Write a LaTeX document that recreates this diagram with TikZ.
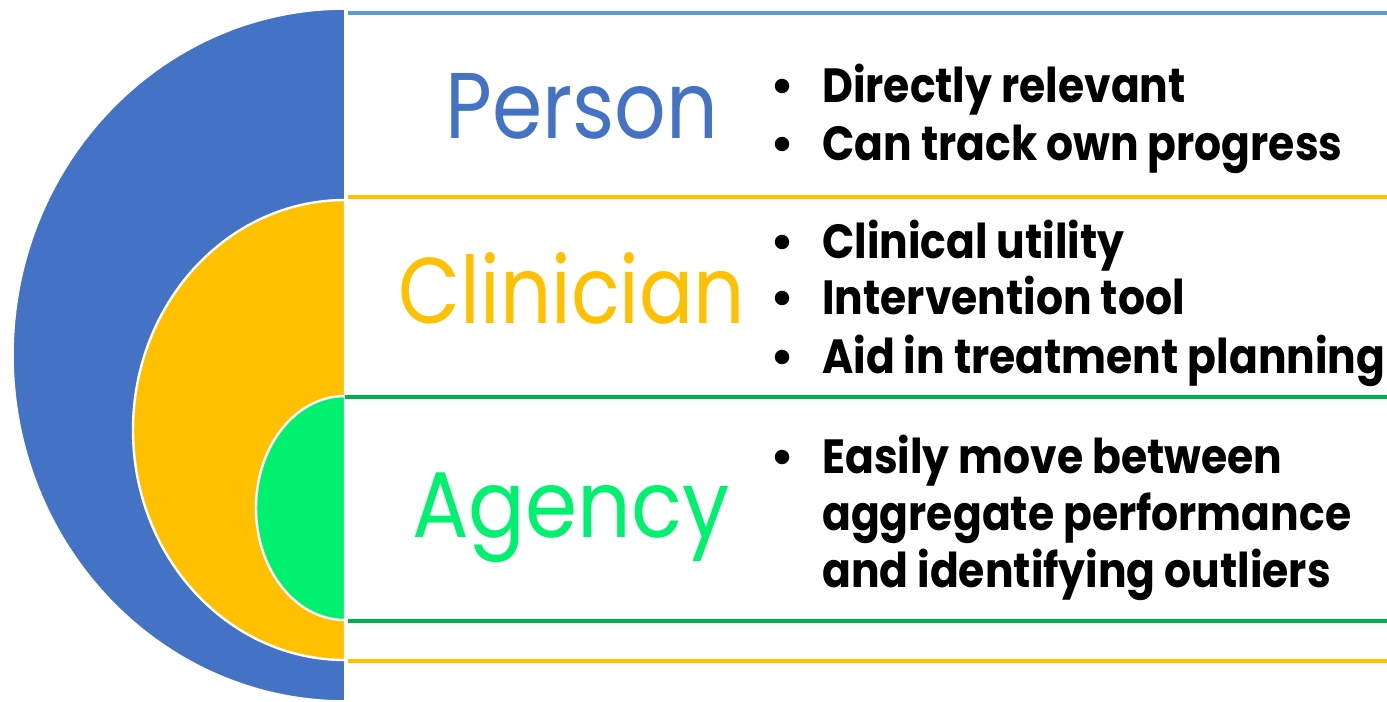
\documentclass[tikz,border=0pt]{standalone}
\usepackage{fontspec}
\setmainfont{Poppins}
\definecolor{cblue}{HTML}{4472C4}
\definecolor{lblue}{HTML}{5B9BD5}
\definecolor{cyellow}{HTML}{FFC000}
\definecolor{cgreen}{HTML}{00F06F}
\definecolor{lgreen}{HTML}{00B050}
\newcommand{\hs}[2]{\scalebox{#1}[1]{#2}}
\newcommand{\bt}[1]{\scalebox{0.885}[1]{#1}}
\tikzset{
  band/.style={line width=2.4pt},
  title/.style={anchor=base, inner sep=0pt, font=\fontsize{70}{70}\selectfont},
  item/.style={anchor=base west, inner sep=0pt, font=\fontsize{36}{36}\selectfont\bfseries},
  dot/.style={anchor=base, inner sep=0pt, font=\fontsize{36}{36}\selectfont\bfseries},
}
\begin{document}
\begin{tikzpicture}[x=0.75pt,y=-0.75pt]
\clip (0,0) rectangle (1387,701);
\fill[white] (0,0) rectangle (1387,701);
% half discs
\fill[cblue, draw=white, line width=1.2pt] (345,9) arc[start angle=270, end angle=90, x radius=332, y radius=346] -- cycle;
\fill[cyellow, draw=white, line width=1.8pt] (345,200) arc[start angle=270, end angle=90, x radius=212, y radius=230] -- cycle;
\fill[cgreen, draw=white, line width=1.8pt] (345,396) arc[start angle=270, end angle=90, x radius=89, y radius=112] -- cycle;
% lines
\coordinate (l1a) at (348,13);  \coordinate (l1b) at (1387,13);
\coordinate (l2a) at (348,197); \coordinate (l2b) at (1387,197);
\coordinate (l3a) at (345,397); \coordinate (l3b) at (1387,397);
\coordinate (l4a) at (348,621); \coordinate (l4b) at (1387,621);
\coordinate (l5a) at (348,661); \coordinate (l5b) at (1387,661);
\draw[band, lblue] (l1a) -- (l1b);
\draw[band, cyellow] (l2a) -- (l2b);
\draw[band, lgreen] (l3a) -- (l3b);
\draw[band, lgreen] (l4a) -- (l4b);
\draw[band, cyellow] (l5a) -- (l5b);
% titles
\node[title, text=cblue] (person) at (582,138) {\hs{0.867}{Person}};
\node[title, text=cyellow] (clinician) at (572,323) {\hs{0.86}{Clinician}};
\node[title, text=cgreen] (agency) at (571,537) {\hs{0.9}{Agency}};
% bullets
\node[dot] (b1) at (783,102) {•};
\node[item] (t1) at (822,102) {\bt{Directly relevant}};
\node[dot] (b2) at (783,160) {•};
\node[item] (t2) at (822,160) {\bt{Can track own progress}};
\node[dot] (b3) at (783,258) {•};
\node[item] (t3) at (822,258) {\bt{Clinical utility}};
\node[dot] (b4) at (783,314) {•};
\node[item] (t4) at (822,314) {\bt{Intervention tool}};
\node[dot] (b5) at (783,373) {•};
\node[item] (t5) at (822,373) {\bt{Aid in treatment planning}};
\node[dot] (b6) at (783,473) {•};
\node[item] (t6) at (822,473) {\bt{Easily move between}};
\node[item] (t7) at (822,530) {\bt{aggregate performance}};
\node[item] (t8) at (822,587) {\bt{and identifying outliers}};
\end{tikzpicture}
\end{document}
